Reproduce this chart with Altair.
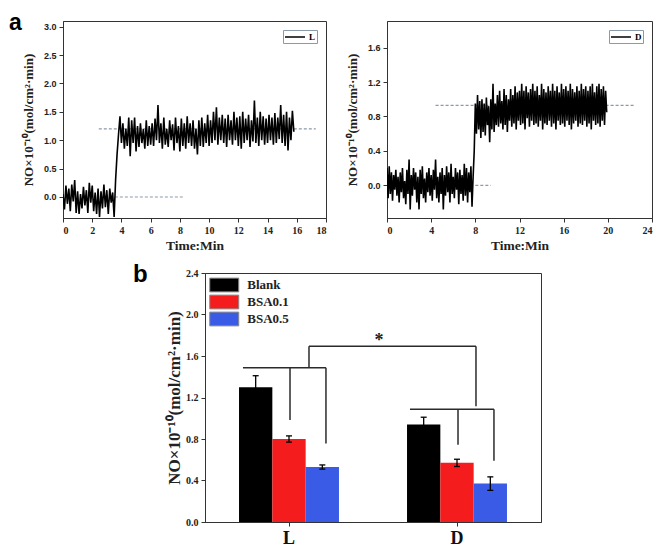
import altair as alt
import pandas as pd

SERIF = "Liberation Serif"
SANS = "Liberation Sans"
YTITLE = "NO×10⁻¹⁰(mol/cm²·min)"

# ---------------- panel a : L trace (values read every 0.1 min) ----------------
L_base = [0.05, -0.22, 0.2, -0.12, 0.15, -0.25, 0.22, -0.08, 0.3, -0.28,
          0.1, -0.3, 0.05, -0.2, 0.18, -0.15, 0.12, -0.28, 0.25, -0.1,
          0.2, -0.25, 0.08, -0.3, 0.15, -0.35, 0.1, -0.2, 0.22, -0.18,
          0.12, -0.3, 0.15, -0.1, 0.08, -0.35]
L_rise = [0.3, 0.75, 1.1, 1.42, 0.95]
L_plateau = [1.3, 0.85, 1.2, 0.9, 1.4, 0.72, 1.35, 0.95, 1.4, 0.8,
             1.25, 0.88, 1.3, 0.95, 1.2, 0.85, 1.35, 0.9, 1.25, 0.92,
             1.3, 0.9, 1.38, 1.0, 1.62, 0.95, 1.3, 0.85, 1.4, 0.92,
             1.2, 0.88, 1.35, 1.0, 1.28, 0.82, 1.4, 0.95, 1.25, 0.8,
             1.38, 0.9, 1.3, 0.85, 1.42, 0.95, 1.3, 0.9, 1.35, 0.85,
             1.2, 0.75, 1.35, 0.9, 1.4, 0.88, 1.3, 0.95, 1.45, 0.9,
             1.35, 0.95, 1.5, 1.0, 1.58, 0.92, 1.4, 1.0, 1.45, 0.95,
             1.38, 0.88, 1.45, 1.0, 1.35, 0.92, 1.5, 1.0, 1.4, 0.9,
             1.42, 0.85, 1.5, 0.95, 1.38, 1.0, 1.45, 0.88, 1.35, 0.98,
             1.7, 0.95, 1.4, 0.9, 1.5, 1.0, 1.42, 0.92, 1.38, 0.95,
             1.45, 1.0, 1.4, 0.92, 1.48, 0.95, 1.4, 1.02, 1.62, 0.95,
             1.45, 0.9, 1.5, 0.82, 1.4, 1.0, 1.52, 1.15]
L_vals = L_base + L_rise + L_plateau

# ---------------- panel a : D trace ----------------
D_base = [0.2, -0.15, 0.22, -0.1, 0.15, -0.18, 0.12, -0.05, 0.18, -0.12,
          0.1, -0.2, 0.15, -0.08, 0.2, -0.15, 0.05, -0.22, 0.18, -0.1,
          0.3, -0.28, 0.12, -0.12, 0.2, -0.05, 0.15, -0.2, 0.1, -0.28,
          0.18, -0.1, 0.22, -0.15, 0.08, -0.2, 0.15, -0.08, 0.2, -0.12,
          0.12, -0.18, 0.18, -0.05, 0.3, -0.15, 0.1, -0.2, 0.15, -0.1,
          0.2, -0.28, 0.12, -0.12, 0.22, -0.08, 0.15, -0.2, 0.25, -0.1,
          0.1, -0.15, 0.2, -0.05, 0.15, -0.22, 0.18, -0.1, 0.12, -0.18,
          0.25, -0.12, 0.2, -0.2, 0.15, -0.08, 0.22, -0.25, 0.1]
D_rise = [0.4, 0.95]
D_plateau = [0.6, 1.05, 0.65, 0.98, 0.55, 1.0, 0.62, 0.95, 0.58, 1.02,
             0.7, 0.92, 0.5, 1.0, 0.65, 1.18, 0.62, 0.95, 0.7, 1.05,
             0.68, 1.1, 0.72, 0.98, 0.65, 1.12, 0.7, 1.05, 0.62, 1.0,
             0.75, 1.12, 0.68, 1.05, 0.72, 1.15, 0.65, 1.08, 0.75, 1.1,
             0.7, 1.18, 0.72, 1.1, 0.65, 1.15, 0.78, 1.08, 0.68, 1.12,
             0.75, 1.18, 0.7, 1.1, 0.72, 1.15, 0.68, 1.05, 0.75, 1.18,
             0.65, 1.12, 0.72, 1.08, 0.7, 1.15, 0.75, 1.1, 0.68, 1.18,
             0.72, 1.1, 0.65, 1.15, 0.75, 1.08, 0.7, 1.18, 0.72, 1.12,
             0.68, 1.15, 0.75, 1.1, 0.7, 1.18, 0.65, 1.12, 0.72, 1.08,
             0.75, 1.15, 0.68, 1.1, 0.72, 1.18, 0.7, 1.12, 0.75, 1.15,
             0.68, 1.1, 0.72, 1.15, 0.65, 1.18, 0.75, 1.08, 0.7, 1.15,
             0.72, 1.18, 0.68, 1.12, 0.75, 1.15, 0.7, 1.1, 0.85]
D_vals = D_base + D_rise + D_plateau

SAMPLE_STEP = 0.1  # minutes between read-off points

# dashed reference lines
L_ref_x1 = [2.45, 3.55]
L_ref_x2 = [17.3, 8.2]
L_ref_y = [1.2, 0.0]
D_ref_x1 = [4.4, 8.0]
D_ref_x2 = [22.5, 9.4]
D_ref_y = [0.93, 0.0]

# ---------------- panel b : bars ----------------
groups = ["L", "L", "L", "D", "D", "D"]
conds = ["Blank", "BSA0.1", "BSA0.5", "Blank", "BSA0.1", "BSA0.5"]
values = [1.30, 0.80, 0.53, 0.94, 0.57, 0.37]
errors = [0.11, 0.03, 0.02, 0.07, 0.035, 0.065]
cond_order = ["Blank", "BSA0.1", "BSA0.5"]
bar_colors = ["#000000", "#f41c1c", "#3a5be6"]

# significance brackets (x in group units: L centre 0.5, D centre 1.5)
br_x1 = [0.226, 0.619, 1.22, 0.506, 0.72, 0.619, 1.613, 1.506, 1.72]
br_x2 = [0.72, 1.613, 1.72, 0.506, 0.72, 0.619, 1.613, 1.506, 1.72]
br_y1 = [1.487, 1.695, 1.087, 1.487, 1.487, 1.487, 1.695, 1.087, 1.087]
br_y2 = [1.487, 1.695, 1.087, 0.984, 0.756, 1.695, 1.115, 0.744, 0.59]
star_x = [1.036]
star_y = [1.70]

ONE = pd.DataFrame({"k": [0]})


def trace_panel(vals, name, xmax, xstep, ydom, yticks, rx1, rx2, ry, w, h, label=None):
    times = [round(SAMPLE_STEP * i, 1) for i in range(len(vals))]
    df = pd.DataFrame({"t": times, "v": vals, "s": name})
    xsc = alt.Scale(domain=[0, xmax], nice=False, zero=False)
    ysc = alt.Scale(domain=ydom, nice=False, zero=False)
    xax = alt.Axis(values=list(range(0, xmax + 1, xstep)), format="d", title="Time:Min",
                   labelFont=SERIF, labelFontWeight="bold", labelFontSize=10, labelColor="#222",
                   titleFont=SERIF, titleFontWeight="bold", titleFontSize=13.5, titleColor="#222",
                   titlePadding=3, labelPadding=3, tickSize=4, tickColor="#333",
                   domainColor="#333", grid=False)
    yax = alt.Axis(values=yticks, format=".1f", title=YTITLE,
                   labelFont=SANS, labelFontWeight="bold", labelFontSize=9, labelColor="#222",
                   titleFont=SERIF, titleFontWeight="bold", titleFontSize=13, titleColor="#222",
                   titlePadding=8, labelPadding=3, tickSize=4, tickColor="#333",
                   domainColor="#333", grid=False)
    ref = alt.Chart(pd.DataFrame({"x1": rx1, "x2": rx2, "y": ry})).mark_rule(
        strokeDash=[3, 2], color="#8c99a6", strokeWidth=1.2
    ).encode(x=alt.X("x1:Q", scale=xsc, axis=xax), x2="x2:Q",
             y=alt.Y("y:Q", scale=ysc, axis=yax))
    line = alt.Chart(df).mark_line(strokeWidth=1.6, clip=True).encode(
        x=alt.X("t:Q", scale=xsc, axis=xax),
        y=alt.Y("v:Q", scale=ysc, axis=yax),
        color=alt.Color("s:N", scale=alt.Scale(range=["#000000"]),
                        legend=alt.Legend(title=None, orient="top-right", offset=9,
                                          symbolType="M -2 0 L 2 0", symbolSize=100,
                                          symbolStrokeWidth=1.5, symbolOffset=5,
                                          labelFont=SERIF, labelFontWeight="bold",
                                          labelFontSize=9, labelOffset=8,
                                          strokeColor="#8a9aa8", padding=1)),
    )
    layers = [ref, line]
    if label:
        layers.append(alt.Chart(ONE).mark_text(text=label, font=SANS, fontSize=23,
                                               fontWeight="bold", align="left",
                                               baseline="alphabetic").encode(
            x=alt.value(-54), y=alt.value(9)))
    return alt.layer(*layers).properties(width=w, height=h)


left = trace_panel(L_vals, "L", 18, 2, [-0.37, 3.1], [0, 0.5, 1.0, 1.5, 2.0, 2.5, 3.0],
                   L_ref_x1, L_ref_x2, L_ref_y, 263, 197, label="a")
right = trace_panel(D_vals, "D", 24, 4, [-0.38, 1.91], [0, 0.4, 0.8, 1.2, 1.6],
                    D_ref_x1, D_ref_x2, D_ref_y, 265, 197)

top = alt.hconcat(left, right, spacing=18).resolve_scale(color="independent").resolve_legend(color="independent")

# ---------------- bar chart ----------------
bar_df = pd.DataFrame({
    "grp": groups, "cond": conds, "val": values,
    "lo": [v - e for v, e in zip(values, errors)],
    "hi": [v + e for v, e in zip(values, errors)],
})
ybs = alt.Scale(domain=[0, 2.4], nice=False, zero=True)
yb_axis = alt.Axis(values=[0, 0.4, 0.8, 1.2, 1.6, 2.0, 2.4], format=".1f", title=YTITLE,
                   labelFont=SERIF, labelFontWeight="bold", labelFontSize=10, labelColor="#222",
                   titleFont=SERIF, titleFontWeight="bold", titleFontSize=17, titleColor="#222",
                   titlePadding=2, labelPadding=3, tickSize=4, tickColor="#333",
                   domainColor="#333", grid=False)
xband = alt.Scale(domain=["L", "D"], paddingInner=0.405, paddingOuter=0.2025)
xb_axis = alt.Axis(title=None, labelAngle=0, labelFont=SERIF, labelFontWeight="bold",
                   labelFontSize=18, labelColor="#111", tickSize=4, tickColor="#333",
                   domainColor="#333", labelPadding=3)
xoff = alt.XOffset("cond:N", sort=cond_order, scale=alt.Scale(domain=cond_order, paddingInner=0, paddingOuter=0))
xgrp = alt.X("grp:N", sort=["L", "D"], scale=xband, axis=xb_axis)

bars = alt.Chart(bar_df).mark_bar().encode(
    x=xgrp,
    xOffset=xoff,
    y=alt.Y("val:Q", scale=ybs, axis=yb_axis),
    color=alt.Color("cond:N", sort=cond_order,
                    scale=alt.Scale(domain=cond_order, range=bar_colors),
                    legend=alt.Legend(title=None, orient="top-left", offset=4,
                                      symbolType="M -2 -0.95 L 2 -0.95 L 2 0.95 L -2 0.95 Z",
                                      symbolSize=210, symbolOffset=7.25,
                                      symbolStrokeColor="#8a8a8a",
                                      symbolStrokeWidth=1, symbolOpacity=1,
                                      labelFont=SERIF, labelFontWeight="bold", labelFontSize=13,
                                      labelColor="#222", labelOffset=15, rowPadding=-2)),
)
err = alt.Chart(bar_df).mark_rule(color="black", strokeWidth=1.3).encode(
    x=xgrp, xOffset=xoff,
    y=alt.Y("lo:Q", scale=ybs, axis=yb_axis), y2="hi:Q")
cap_path = "M -1 0 L 1 0"
cap_hi = alt.Chart(bar_df).mark_point(shape=cap_path, size=36, color="black", strokeWidth=1.3,
                                      filled=False, opacity=1).encode(
    x=xgrp, xOffset=xoff, y=alt.Y("hi:Q", scale=ybs, axis=yb_axis))
cap_lo = alt.Chart(bar_df).mark_point(shape=cap_path, size=36, color="black", strokeWidth=1.3,
                                      filled=False, opacity=1).encode(
    x=xgrp, xOffset=xoff, y=alt.Y("lo:Q", scale=ybs, axis=yb_axis))

bar_layer = alt.layer(bars, err, cap_hi, cap_lo)

pos_scale = alt.Scale(domain=[0, 2], nice=False, zero=False)
brackets = alt.Chart(pd.DataFrame({"x1": br_x1, "x2": br_x2, "y1": br_y1, "y2": br_y2})).mark_rule(
    color="#2b2b2b", strokeWidth=1.5).encode(
    x=alt.X("x1:Q", scale=pos_scale, axis=None), x2="x2:Q",
    y=alt.Y("y1:Q", scale=ybs, axis=yb_axis), y2="y2:Q")
star = alt.Chart(pd.DataFrame({"x": star_x, "y": star_y, "s": ["*"]})).mark_text(
    font=SERIF, fontSize=18, fontWeight="bold", color="#222", baseline="alphabetic").encode(
    x=alt.X("x:Q", scale=pos_scale, axis=None), y=alt.Y("y:Q", scale=ybs, axis=yb_axis),
    text="s:N")
ann_layer = alt.layer(brackets, star)

b_label = alt.Chart(ONE).mark_text(text="b", font=SANS, fontSize=24, fontWeight="bold",
                                   align="left", baseline="alphabetic").encode(
    x=alt.value(-72), y=alt.value(9))

bottom_chart = alt.layer(bar_layer, ann_layer, b_label).resolve_scale(x="independent").properties(
    width=336, height=249)

spacer = alt.Chart(ONE).mark_point(size=0, opacity=0).encode(
    x=alt.value(0), y=alt.value(0)).properties(
    width=68, height=10, view=alt.ViewBackground(stroke="transparent"))

bottom = alt.hconcat(spacer, bottom_chart, spacing=0).resolve_scale(
    color="independent").resolve_legend(color="independent")

chart = alt.vconcat(top, bottom, spacing=10).resolve_scale(color="independent").resolve_legend(
    color="independent").configure_view(stroke="#333", strokeWidth=1).properties(
    padding={"left": 0, "top": 3, "right": 0, "bottom": 0}, background="white")

chart.save("out.html", embed_options={"renderer": "svg", "actions": False})
